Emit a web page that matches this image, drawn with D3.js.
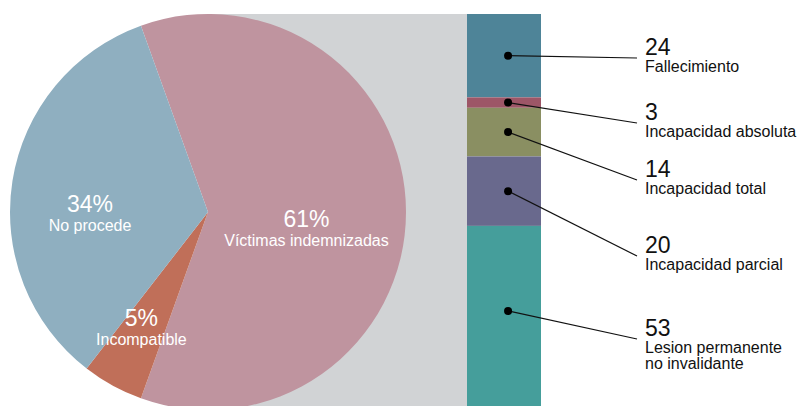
<!DOCTYPE html>
<html>
<head>
<meta charset="utf-8">
<script src="https://cdn.jsdelivr.net/npm/d3@7"></script>
<style>
  html, body { margin: 0; padding: 0; background: #fff; }
  svg { display: block; font-family: "Liberation Sans", Arial, Helvetica, sans-serif; }
</style>
</head>
<body>
<div id="chart"></div>
<script>
// pie data (percent)
const pieNames = ["Víctimas indemnizadas", "Incompatible", "No procede"];
const pieValues = [61, 5, 34];
const pieColors = ["#bf949f", "#c06f59", "#8fafc0"];

// breakdown of "Víctimas indemnizadas"
const barNames = ["Fallecimiento", "Incapacidad absoluta", "Incapacidad total", "Incapacidad parcial", "Lesion permanente\nno invalidante"];
const barValues = [24, 3, 14, 20, 53];
const barColors = ["#4e8498", "#9d5667", "#8a8f62", "#69698d", "#459e9b"];

// layout
const width = 799, height = 406;
const cx = 208, cy = 212, r = 198;
const barX0 = 467, barX1 = 541;
const calloutX = 637, textX = 645;
const calloutY = [58, 123, 180, 256, 339];
// label placement inside pie: radius and angular nudge (deg) per slice
const pieLabelPlace = [{r: 100, da: 10}, {r: 134, da: 1}, {r: 118, da: -10}];

const svg = d3.select("#chart")
  .append("svg")
    .attr("width", width)
    .attr("height", height);

// gray connector behind pie
svg.append("rect")
  .attr("x", cx)
  .attr("y", cy - r)
  .attr("width", barX0 - cx)
  .attr("height", 2 * r)
  .attr("fill", "#d1d3d5");

// pie, main slice centred on the right side
const mainShare = pieValues[0] / d3.sum(pieValues);
const start = Math.PI / 2 - mainShare * Math.PI;
const pie = d3.pie().sort(null).startAngle(start).endAngle(start + 2 * Math.PI);
const arcs = pie(pieValues);
const arc = d3.arc().innerRadius(0).outerRadius(r);

const g = svg.append("g").attr("transform", `translate(${cx},${cy})`);
g.selectAll("path.slice")
  .data(arcs)
  .join("path")
    .attr("class", "slice")
    .attr("d", arc)
    .attr("fill", (d, i) => pieColors[i]);

const lab = g.selectAll("g.lab")
  .data(arcs)
  .join("g")
    .attr("class", "lab")
    .attr("transform", (d, i) => {
      const a = (d.startAngle + d.endAngle) / 2 + pieLabelPlace[i].da * Math.PI / 180;
      const rr = pieLabelPlace[i].r;
      return `translate(${rr * Math.sin(a)},${-rr * Math.cos(a)})`;
    });
lab.append("text")
  .attr("text-anchor", "middle")
  .attr("y", -2)
  .attr("fill", "#fff")
  .style("font-size", "23px")
  .text(d => d.value + "%");
lab.append("text")
  .attr("text-anchor", "middle")
  .attr("y", 17)
  .attr("fill", "#fff")
  .style("font-size", "16px")
  .text((d, i) => pieNames[i]);

// stacked bar
const total = d3.sum(barValues);
const y = d3.scaleLinear().domain([0, total]).range([cy - r, cy + r]);
const cum = d3.cumsum(barValues);
const segs = barValues.map((v, i) => ({name: barNames[i], value: v, y0: cum[i] - v, y1: cum[i], i}));

svg.selectAll("rect.seg")
  .data(segs)
  .join("rect")
    .attr("class", "seg")
    .attr("x", barX0)
    .attr("width", barX1 - barX0)
    .attr("y", d => y(d.y0))
    .attr("height", d => y(d.y1) - y(d.y0))
    .attr("fill", d => barColors[d.i]);

const dotX = barX0 + (barX1 - barX0) * 0.555;
const dotY = d => Math.min((y(d.y0) + y(d.y1)) / 2, (y(d.y0) + height) / 2 - 5);

svg.selectAll("line.call")
  .data(segs)
  .join("line")
    .attr("class", "call")
    .attr("x1", dotX)
    .attr("y1", dotY)
    .attr("x2", calloutX)
    .attr("y2", d => calloutY[d.i])
    .attr("stroke", "#111")
    .attr("stroke-width", 1.2);

svg.selectAll("circle.dot")
  .data(segs)
  .join("circle")
    .attr("class", "dot")
    .attr("cx", dotX)
    .attr("cy", dotY)
    .attr("r", 4)
    .attr("fill", "#000");

const ann = svg.selectAll("g.ann")
  .data(segs)
  .join("g")
    .attr("class", "ann")
    .attr("transform", d => `translate(${textX},${calloutY[d.i]})`);
ann.append("text")
  .attr("y", -3)
  .attr("fill", "#111")
  .style("font-size", "23px")
  .text(d => d.value);
ann.each(function(d) {
  const t = d3.select(this).append("text")
    .attr("fill", "#111")
    .style("font-size", "16px");
  d.name.split("\n").forEach((line, k) => {
    t.append("tspan").attr("x", 0).attr("y", 14 + k * 16).text(line);
  });
});
</script>
</body>
</html>
